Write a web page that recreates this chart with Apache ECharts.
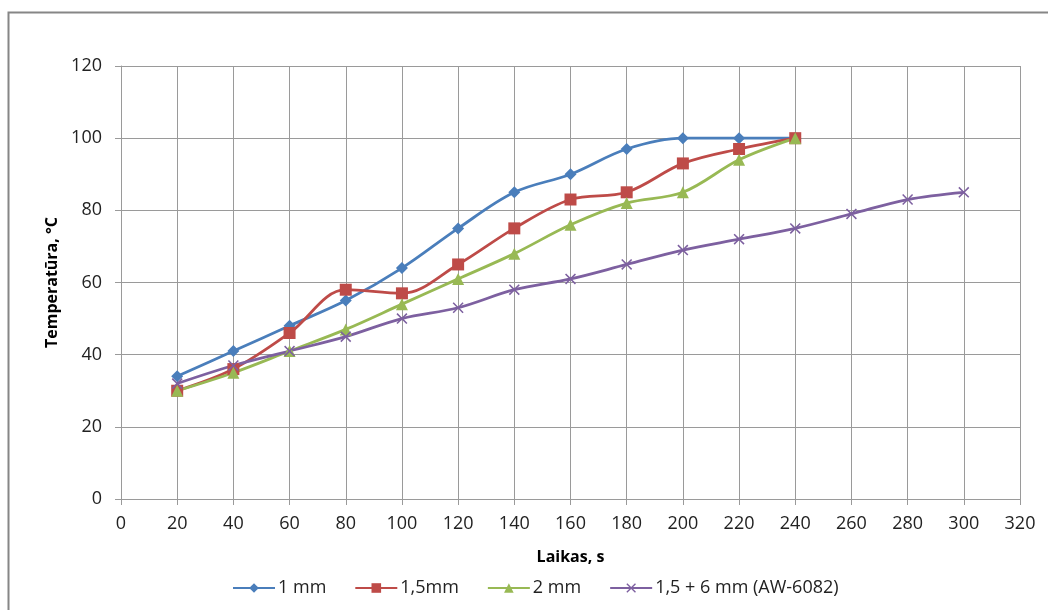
<!DOCTYPE html>
<html>
<head>
<meta charset="utf-8">
<script src="https://cdn.jsdelivr.net/npm/echarts@6/dist/echarts.min.js"></script>
<style>
  html, body { margin: 0; padding: 0; background: #fff; }
  #chart { width: 1048px; height: 610px; }
</style>
</head>
<body>
<div id="chart"></div>
<script>
// Heating time, s
const timeSeconds = [20, 40, 60, 80, 100, 120, 140, 160, 180, 200, 220, 240, 260, 280, 300];

// Temperature, °C, for each sheet thickness
const temp1mm   = [34, 41, 48, 55, 64, 75, 85, 90, 97, 100, 100, 100];
const temp15mm  = [30, 36, 46, 58, 57, 65, 75, 83, 85, 93, 97, 100];
const temp2mm   = [30, 35, 41, 47, 54, 61, 68, 76, 82, 85, 94, 100];
const temp15p6  = [32, 37, 41, 45, 50, 53, 58, 61, 65, 69, 72, 75, 79, 83, 85];

const seriesNames = ['1 mm', '1,5mm', '2 mm', '1,5 + 6 mm (AW-6082)'];

function pairs(values) {
  return values.map((v, i) => [timeSeconds[i], v]);
}

const crossPath = 'path://M1,0L5,4L9,0L10,1L6,5L10,9L9,10L5,6L1,10L0,9L4,5L0,1Z';
const font = '"Open Sans", "Liberation Sans", sans-serif';
const gridColor = '#9a9a9a';

const chart = echarts.init(document.getElementById('chart'), null, { renderer: 'canvas' });

function lineSeries(name, values, color, symbol, size) {
  return {
    name: name,
    type: 'line',
    data: pairs(values),
    smooth: 0.35,
    symbol: symbol,
    symbolSize: size,
    showSymbol: true,
    lineStyle: { color: color, width: 2.8 },
    itemStyle: { color: color },
    emphasis: { disabled: true },
    animation: false
  };
}

chart.setOption({
  animation: false,
  backgroundColor: '#fff',
  graphic: [{
    type: 'rect',
    shape: { x: 8.5, y: 12.5, width: 1200, height: 800 },
    style: { fill: 'none', stroke: '#868686', lineWidth: 2 },
    silent: true,
    z: -1
  }],
  grid: { left: 121, top: 66, width: 899, height: 433, containLabel: false },
  legend: {
    left: 227,
    top: 574,
    itemWidth: 42,
    itemHeight: 12,
    itemGap: 28,
    textStyle: { fontFamily: font, fontSize: 18, color: '#222', padding: [0, 0, 0, -2] },
    data: seriesNames
  },
  xAxis: {
    type: 'value',
    min: 0,
    max: 320,
    interval: 20,
    name: 'Laikas, s',
    nameLocation: 'middle',
    nameGap: 50,
    nameTextStyle: { fontFamily: font, fontSize: 16, fontWeight: 'bold', color: '#000' },
    axisLine: { show: true, lineStyle: { color: gridColor, width: 1 } },
    axisTick: { show: true, length: 6, inside: false, lineStyle: { color: gridColor } },
    axisLabel: { fontFamily: font, fontSize: 18, color: '#222', margin: 16 },
    splitLine: { show: true, lineStyle: { color: gridColor, width: 1 } }
  },
  yAxis: {
    type: 'value',
    min: 0,
    max: 120,
    interval: 20,
    name: 'Temperatūra, °C',
    nameLocation: 'middle',
    nameGap: 61,
    nameRotate: 90,
    nameTextStyle: { fontFamily: font, fontSize: 16, fontWeight: 'bold', color: '#000' },
    axisLine: { show: true, lineStyle: { color: gridColor, width: 1 } },
    axisTick: { show: true, length: 6, inside: false, lineStyle: { color: gridColor } },
    axisLabel: { fontFamily: font, fontSize: 18, color: '#222', margin: 19 },
    splitLine: { show: true, lineStyle: { color: gridColor, width: 1 } }
  },
  series: [
    lineSeries(seriesNames[0], temp1mm, '#4A7EBB', 'diamond', 12),
    lineSeries(seriesNames[1], temp15mm, '#BE4B48', 'rect', 12),
    lineSeries(seriesNames[2], temp2mm, '#98B954', 'triangle', 12),
    lineSeries(seriesNames[3], temp15p6, '#7D60A0', crossPath, 11)
  ]
});
</script>
</body>
</html>
